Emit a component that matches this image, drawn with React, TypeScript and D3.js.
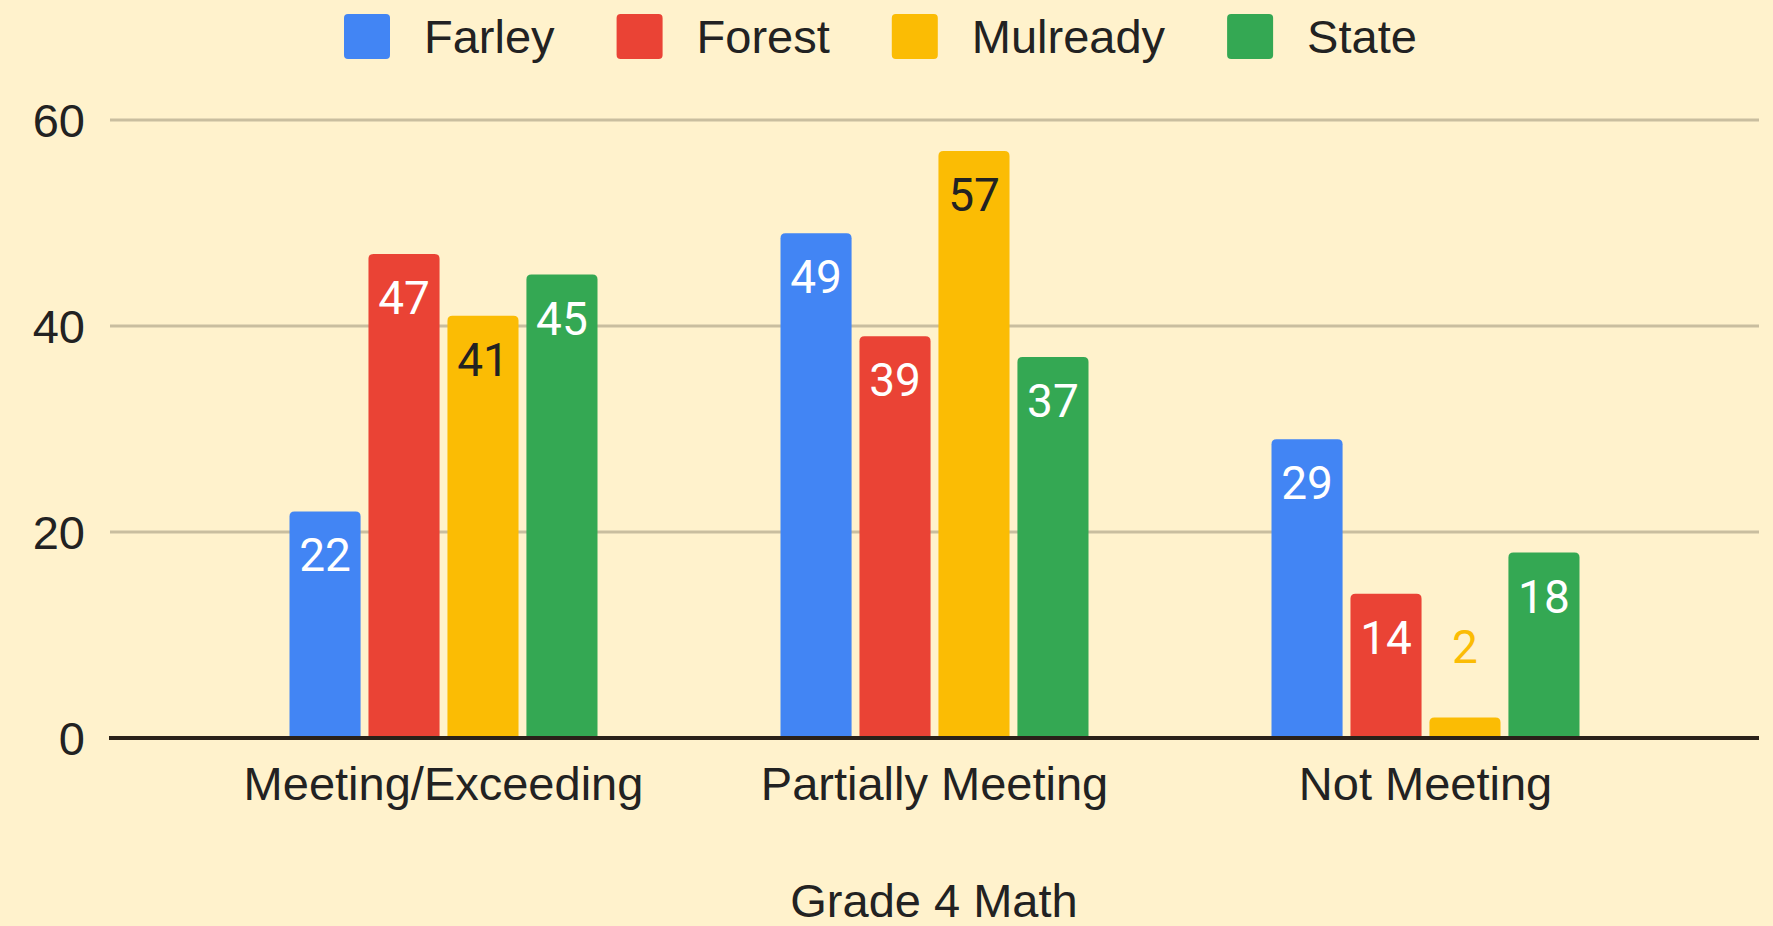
import React, { useRef, useEffect } from "react";
import * as d3 from "d3";

// chart data
const categories = ["Meeting/Exceeding", "Partially Meeting", "Not Meeting"];
const seriesNames = ["Farley", "Forest", "Mulready", "State"];
const farley = [22, 49, 29];
const forest = [47, 39, 14];
const mulready = [41, 57, 2];
const state = [45, 37, 18];
const yTicks = [0, 20, 40, 60];
const colors = ["#4285f4", "#ea4335", "#fbbc04", "#34a853"];
const labelColors = ["#ffffff", "#ffffff", "#222222", "#ffffff"];
const axisTitle = "Grade 4 Math";

const W = 1773;
const H = 926;

const App = () => {
  const svgRef = useRef<SVGSVGElement>(null);

  useEffect(() => {
    const svg = d3.select(svgRef.current);
    svg.selectAll("*").remove();

    const values = [farley, forest, mulready, state];
    const font = "'Liberation Sans', Arial, sans-serif";
    const fs = 47;

    const x0 = d3.scaleBand().domain(categories).range([198, 1671]);
    const x1 = d3.scaleBand().domain(seriesNames).range([-154, 154]).paddingInner(0.1);
    const y = d3.scaleLinear().domain([0, 60]).range([738, 120]);

    svg.append("rect").attr("width", W).attr("height", H).attr("fill", "#fff2cc");

    // gridlines
    svg.append("g")
      .selectAll("line")
      .data(yTicks.filter((t) => t !== 0))
      .join("line")
      .attr("x1", 110)
      .attr("x2", 1759)
      .attr("y1", (d) => y(d))
      .attr("y2", (d) => y(d))
      .attr("stroke", "#c9be9f")
      .attr("stroke-width", 3);

    // y tick labels
    svg.append("g")
      .selectAll("text")
      .data(yTicks)
      .join("text")
      .attr("x", 85)
      .attr("y", (d) => y(d) + 17)
      .attr("text-anchor", "end")
      .attr("font-family", font)
      .attr("font-size", fs)
      .attr("fill", "#222")
      .text((d) => d);

    // bars, flat bottom with rounded top corners
    const barPath = (xl: number, w: number, top: number, bottom: number) => {
      const r = Math.min(5, bottom - top);
      return `M${xl},${bottom}V${top + r}Q${xl},${top} ${xl + r},${top}H${xl + w - r}Q${xl + w},${top} ${xl + w},${top + r}V${bottom}Z`;
    };

    const groups = svg.append("g")
      .selectAll("g")
      .data(categories)
      .join("g")
      .attr("transform", (c) => `translate(${x0(c)! + x0.bandwidth() / 2},0)`);

    groups.each(function (c, ci) {
      const g = d3.select(this);
      seriesNames.forEach((s, si) => {
        const v = values[si][ci];
        const xl = x1(s)!;
        const w = x1.bandwidth();
        const top = y(v);
        g.append("path")
          .attr("d", barPath(xl, w, top, y(0)))
          .attr("fill", colors[si]);
        const inside = y(0) - top > 70;
        g.append("text")
          .attr("x", xl + w / 2)
          .attr("y", inside ? top + 60 : top - 54)
          .attr("text-anchor", "middle")
          .attr("font-family", "Roboto, sans-serif")
          .attr("font-size", 46)
          .attr("fill", inside ? labelColors[si] : colors[si])
          .text(v);
      });
    });

    // baseline
    svg.append("line")
      .attr("x1", 109)
      .attr("x2", 1759)
      .attr("y1", y(0))
      .attr("y2", y(0))
      .attr("stroke", "#2a2119")
      .attr("stroke-width", 4);

    // category labels
    svg.append("g")
      .selectAll("text")
      .data(categories)
      .join("text")
      .attr("x", (c) => x0(c)! + x0.bandwidth() / 2)
      .attr("y", 800)
      .attr("text-anchor", "middle")
      .attr("font-family", font)
      .attr("font-size", fs)
      .attr("fill", "#222")
      .text((c) => c);

    svg.append("text")
      .attr("x", 934)
      .attr("y", 917)
      .attr("text-anchor", "middle")
      .attr("font-family", font)
      .attr("font-size", fs)
      .attr("fill", "#222")
      .text(axisTitle);

    // legend, laid out from measured text widths
    const legend = svg.append("g");
    let lx = 344;
    seriesNames.forEach((s, i) => {
      legend.append("rect")
        .attr("x", lx)
        .attr("y", 14)
        .attr("width", 46)
        .attr("height", 45)
        .attr("rx", 4)
        .attr("fill", colors[i]);
      const t = legend.append("text")
        .attr("x", lx + 80)
        .attr("y", 53)
        .attr("font-family", font)
        .attr("font-size", fs)
        .attr("fill", "#222")
        .text(s);
      const tw = (t.node() as SVGTextElement).getComputedTextLength();
      lx = lx + 80 + tw + 62;
    });
  }, []);

  return (
    <svg
      ref={svgRef}
      width={W}
      height={H}
      style={{ position: "absolute", left: 0, top: 0, display: "block" }}
    />
  );
};

export default App;
